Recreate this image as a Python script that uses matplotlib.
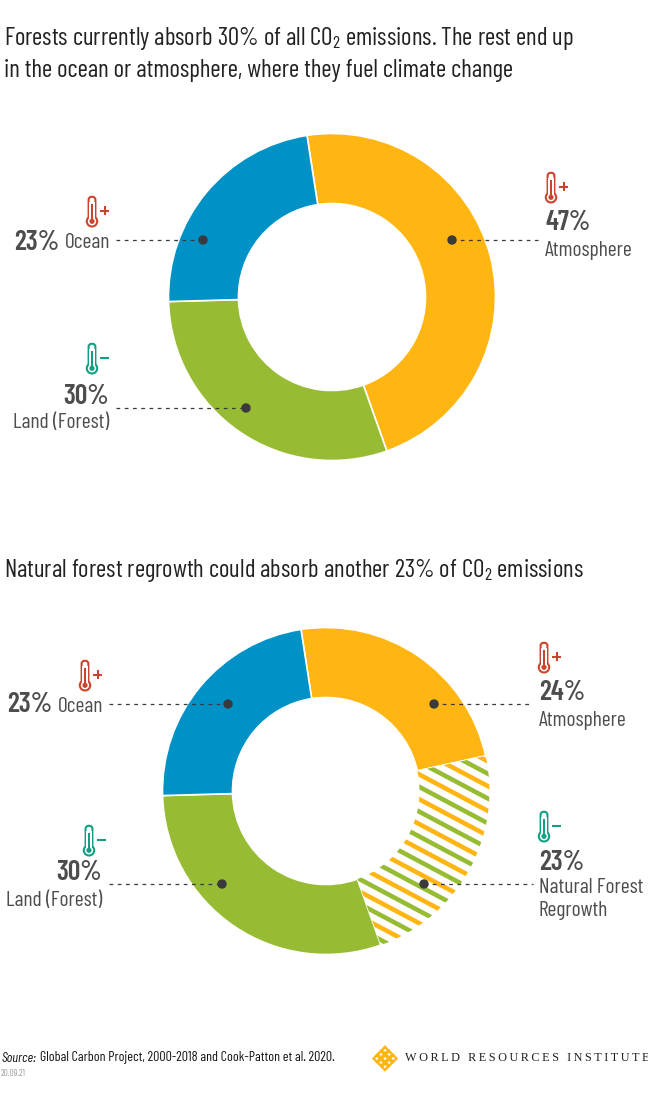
import numpy as np
import matplotlib
matplotlib.use("Agg")
import matplotlib.pyplot as plt
from matplotlib.patches import FancyBboxPatch, Circle, Rectangle

# ---- data ----
top_labels = ["Atmosphere", "Land (Forest)", "Ocean"]
top_values = [47, 30, 23]
bottom_labels = ["Atmosphere", "Natural Forest\nRegrowth", "Land (Forest)", "Ocean"]
bottom_values = [24, 23, 30, 23]

title_top = ["Forests currently absorb 30% of all CO$_2$ emissions. The rest end up",
             "in the ocean or atmosphere, where they fuel climate change"]
title_bottom = "Natural forest regrowth could absorb another 23% of CO$_2$ emissions"
source_text = "Global Carbon Project, 2000-2018 and Cook-Patton et al. 2020."
date_text = "20.09.21"
org_text = "WORLD RESOURCES INSTITUTE"

# ---- style ----
ORANGE, BLUE, GREEN = "#FFB612", "#0091C7", "#97BC33"
TXT, RED, TEAL = "#4D4D4F", "#C9452F", "#12A083"
NARROW = ["Barlow Condensed", "Liberation Sans Narrow", "Roboto", "DejaVu Sans"]
plt.rcParams["font.family"] = NARROW
plt.rcParams["mathtext.fontset"] = "custom"
plt.rcParams["mathtext.rm"] = "Barlow Condensed"
plt.rcParams["mathtext.default"] = "rm"

W, H = 648, 1100
fig = plt.figure(figsize=(W / 100, H / 100), dpi=100, facecolor="white")

R, HOLE = 163.5, 93.5
PAD = 1.02


def donut(cx, cy, values, colors):
    size = 2 * R * PAD
    ax = fig.add_axes([(cx - size / 2) / W, 1 - (cy + size / 2) / H, size / W, size / H])
    wedges, _ = ax.pie(values, colors=colors, startangle=98.8, counterclock=False, radius=1,
                       wedgeprops=dict(width=1 - HOLE / R, edgecolor="white", linewidth=1.2))
    ax.set_xlim(-PAD, PAD)
    ax.set_ylim(-PAD, PAD)
    ax.set_aspect("equal")
    ax.axis("off")
    return ax, wedges


ax1, _ = donut(332, 297, top_values, [ORANGE, GREEN, BLUE])
ax2, w2 = donut(326, 791, bottom_values, [ORANGE, "white", GREEN, BLUE])

# stripes of the regrowth wedge
ang = np.deg2rad(28)
d = np.array([np.cos(ang), -np.sin(ang)])
n = np.array([-np.sin(ang), -np.cos(ang)])
for k in range(-14, 10):
    off = (29.2 + k * 10.95) / R
    c = ORANGE if k % 2 == 0 else GREEN
    p0, p1 = n * off - d * 1.3, n * off + d * 1.3
    ln, = ax2.plot([p0[0], p1[0]], [p0[1], p1[1]], color=c, lw=3.3, solid_capstyle="butt")
    ln.set_clip_path(w2[1])

# overlay in pixel coordinates
ov = fig.add_axes([0, 0, 1, 1], facecolor="none")
ov.set_xlim(0, W)
ov.set_ylim(H, 0)
ov.axis("off")


def T(x, y, s, size, ha="left", weight="normal", color=TXT, **kw):
    return ov.text(x, y + 2, s, fontsize=size, ha=ha, va="center", fontweight=weight, color=color, **kw)


def leader(x0, x1, y, dotx):
    ov.plot([x0, x1], [y, y], color="#3A3A3C", lw=0.9, dashes=(3.0, 3.6), zorder=5)
    ov.add_patch(Circle((dotx, y), 4, color="#3A3A3C", zorder=6))


def thermo(x, top, sign, color):
    bot = top + 31
    tw = 4.2
    ov.add_patch(FancyBboxPatch((x - tw + 0.8, top + 0.8), 2 * tw - 1.6, 22, boxstyle="round,pad=0,rounding_size=3",
                                fc="white", ec=color, lw=1.5, zorder=6))
    ov.add_patch(Circle((x, bot - 5.7), 5.2, fc="white", ec=color, lw=1.5, zorder=7))
    ov.add_patch(Rectangle((x - 3, top + 6), 6, 17, fc="white", ec="none", zorder=7))
    ov.add_patch(Rectangle((x - 1, top + 8), 2, 16, fc=color, ec="none", zorder=8))
    ov.add_patch(Circle((x, bot - 5.7), 2.6, fc=color, ec="none", zorder=8))
    ov.plot([x + 8, x + 17], [top + 14.5] * 2, color=color, lw=1.5, solid_capstyle="butt")
    if sign == "+":
        ov.plot([x + 12.5] * 2, [top + 10, top + 19], color=color, lw=1.5, solid_capstyle="butt")


PCT, LAB = 20, 15.5
TITLE = 18.0
PW = "semibold"

# titles
T(4, 37, title_top[0], TITLE, color="#222222")
T(4, 68, title_top[1], TITLE, color="#222222")
T(4, 568, title_bottom, TITLE, color="#222222")

# top donut labels
thermo(92, 196, "+", RED)
T(14, 240, f"{top_values[2]}%", PCT, weight=PW)
T(65, 241, top_labels[2], LAB)
leader(116, 203, 240, 203)

thermo(92, 343, "-", TEAL)
T(109, 394, f"{top_values[1]}%", PCT, ha="right", weight=PW)
T(109, 421, top_labels[1], LAB, ha="right")
leader(116, 246, 408, 246)

thermo(551, 172, "+", RED)
T(545, 221, f"{top_values[0]}%", PCT, weight=PW)
T(545, 249, top_labels[0], LAB)
leader(452, 538, 240, 452)

# bottom donut labels
thermo(85, 660, "+", RED)
T(7, 703, f"{bottom_values[3]}%", PCT, weight=PW)
T(58, 704, bottom_labels[3], LAB)
leader(109, 228, 704, 228)

thermo(89, 825, "-", TEAL)
T(102, 871, f"{bottom_values[2]}%", PCT, ha="right", weight=PW)
T(102, 899, bottom_labels[2], LAB, ha="right")
leader(109, 222, 884, 222)

thermo(544, 642, "+", RED)
T(539, 691, f"{bottom_values[0]}%", PCT, weight=PW)
T(539, 718, bottom_labels[0], LAB)
leader(434, 533, 704, 434)

thermo(544, 811, "-", TEAL)
T(539, 860, f"{bottom_values[1]}%", PCT, weight=PW)
T(539, 897, bottom_labels[1], LAB, linespacing=1.3)
leader(424, 533, 884, 424)

# footer
T(1, 1056, "Source:", 10.05, color="#111111", style="italic")
T(40, 1056, source_text, 10.05, color="#111111")
T(1, 1071, date_text, 6.5, color="#999999")

# logo lattice
lx, ly = 385, 1058.5
st = 4.1
for i in range(-1, 2):
    for j in range(-1, 2):
        x = lx + (i - j) * st
        y = ly + (i + j) * st
        ov.plot([x, x + st * .8, x, x - st * .8, x], [y - st * .8, y, y + st * .8, y, y - st * .8],
                color=ORANGE, lw=1.7, solid_joinstyle="miter")
ov.text(405, 1058, "\u2009".join(org_text), fontsize=8.8, family=["Liberation Serif", "DejaVu Serif"],
        ha="left", va="center", color="#222222")

fig.savefig("out.png", dpi=100, facecolor="white")
